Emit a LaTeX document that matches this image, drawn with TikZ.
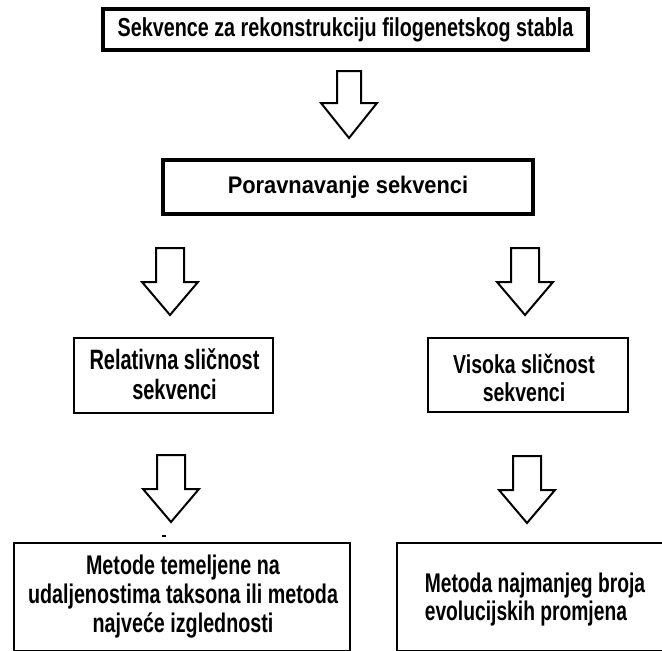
\documentclass[tikz,border=0pt]{standalone}
\usepackage{fontspec}
\setmainfont{Liberation Sans}
\tikzset{
  box/.style={draw=black, fill=white, line width=2.7pt, inner sep=0pt},
  thickbox/.style={box, line width=3.8pt},
  blockarr/.style={draw=black, fill=white, line width=2pt, line join=miter},
  txt/.style={font=#1, align=center, inner sep=0pt},
}
\newcommand{\fs}[3]{\bfseries\fontsize{#1}{#2}\selectfont\addfontfeature{FakeStretch=#3}}
\begin{document}
\begin{tikzpicture}[x=1pt,y=-1pt]
\useasboundingbox (0,0) rectangle (662,651);
\fill[white] (0,0) rectangle (662,651);

% boxes
\node[thickbox, minimum width=485, minimum height=41] (seq) at (345.5,29.5) {};
\node[txt={\fs{26}{30}{0.76}}] (seqt) at (seq.center) {Sekvence za rekonstrukciju filogenetskog stabla};

\node[thickbox, minimum width=370, minimum height=54] (por) at (348,187) {};
\node[txt={\fs{24}{29}{0.91}}] (port) at (por.center) {Poravnavanje sekvenci};

\node[box, minimum width=199, minimum height=75] (rel) at (173.5,375.5) {};
\node[txt={\fs{28}{30}{0.714}}] (relt) at (174.5,374) {Relativna sličnost\\sekvenci};

\node[box, minimum width=200, minimum height=74] (vis) at (528,375) {};
\node[txt={\fs{26}{28}{0.75}}] (vist) at (524,378) {Visoka sličnost\\sekvenci};

\node[box, minimum width=336, minimum height=108] (met) at (182,597) {};
\node[txt={\fs{27}{29}{0.73}}] (mett) at (183,597) {Metode temeljene na\\udaljenostima taksona ili metoda\\najveće izglednosti};

\node[box, minimum width=273, minimum height=108] (mp) at (533.5,597) {};
\node[txt={\fs{27}{28}{0.713}}, align=left] (mpt) at (535,600) {Metoda najmanjeg broja\\evolucijskih promjena};

% block arrows
\coordinate (a1) at (349,71);
\coordinate (a2) at (170,248);
\coordinate (a3) at (525,248);
\coordinate (a4) at (171,455);
\coordinate (a5) at (527,456);
\draw[blockarr, shift={(a1)}] (-12,0) -- (12,0) -- (12,32) -- (28,32) -- (0,67) -- (-28,32) -- (-12,32) -- cycle;
\foreach \a in {a2,a3,a4,a5}
  \draw[blockarr, shift={(\a)}] (-14,0) -- (14,0) -- (14,34) -- (28,34) -- (0,67) -- (-28,34) -- (-14,34) -- cycle;

% small mark
\coordinate (dash) at (164,535.5);
\draw[line width=2pt] ([xshift=-2pt]dash) -- ([xshift=2pt]dash);
\end{tikzpicture}
\end{document}
